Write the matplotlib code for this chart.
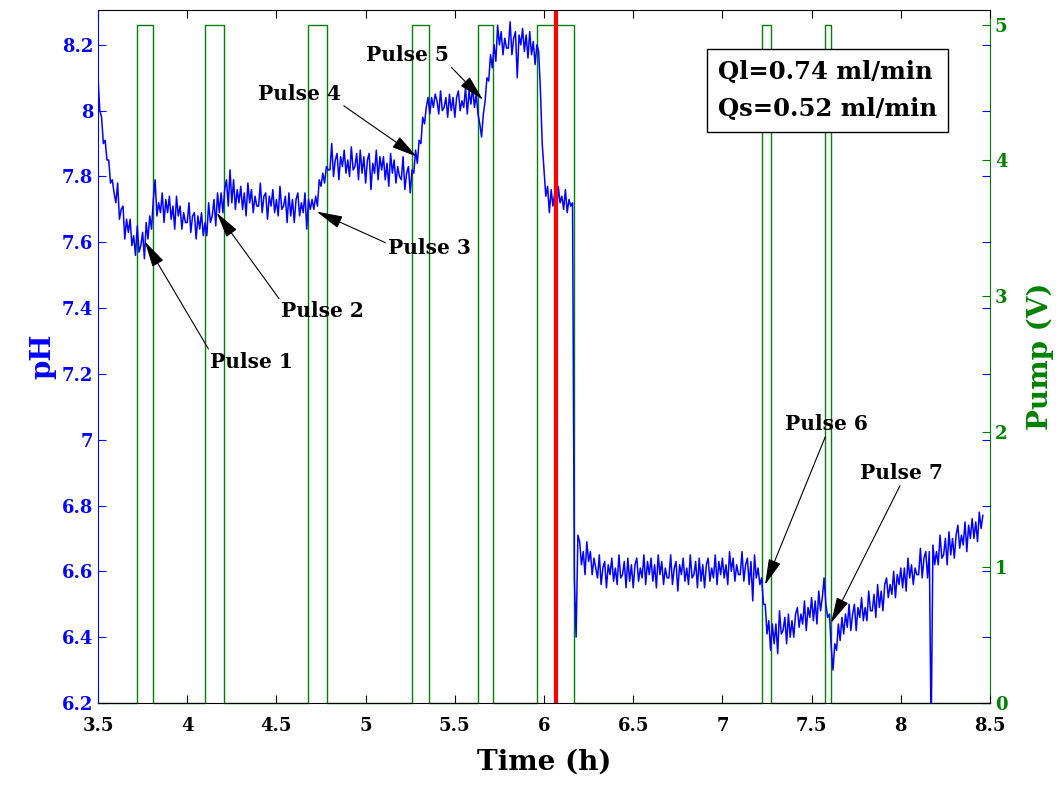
import numpy as np
import matplotlib
matplotlib.use("Agg")
import matplotlib.pyplot as plt

plt.rcParams['font.family'] = ['DejaVu Serif']
plt.rcParams['font.weight'] = 'bold'

# pH trace, one reading every 0.01 h starting at 3.50 h (rows of 0.1 h)
t_start = 3.50
t_step = 0.01
ph = [
    8.10, 8.00, 7.98, 7.90, 7.91, 7.85, 7.85, 7.78, 7.79, 7.75,  # 3.5
    7.72, 7.78, 7.67, 7.70, 7.71, 7.61, 7.67, 7.63, 7.67, 7.59,  # 3.6
    7.62, 7.56, 7.65, 7.57, 7.59, 7.63, 7.55, 7.66, 7.61, 7.68,  # 3.7
    7.64, 7.73, 7.79, 7.68, 7.72, 7.69, 7.75, 7.66, 7.73, 7.69,  # 3.8
    7.74, 7.67, 7.71, 7.64, 7.74, 7.68, 7.71, 7.64, 7.69, 7.66,  # 3.9
    7.66, 7.72, 7.63, 7.68, 7.69, 7.61, 7.68, 7.64, 7.69, 7.62,  # 4.0
    7.66, 7.62, 7.72, 7.66, 7.68, 7.73, 7.65, 7.75, 7.69, 7.75,  # 4.1
    7.69, 7.76, 7.79, 7.71, 7.82, 7.72, 7.79, 7.70, 7.76, 7.72,  # 4.2
    7.77, 7.70, 7.75, 7.68, 7.78, 7.72, 7.76, 7.69, 7.74, 7.71,  # 4.3
    7.71, 7.78, 7.69, 7.74, 7.75, 7.67, 7.74, 7.71, 7.76, 7.69,  # 4.4
    7.73, 7.68, 7.77, 7.70, 7.71, 7.74, 7.66, 7.75, 7.68, 7.73,  # 4.5
    7.66, 7.73, 7.75, 7.68, 7.72, 7.69, 7.75, 7.64, 7.73, 7.70,  # 4.6
    7.73, 7.70, 7.74, 7.71, 7.79, 7.77, 7.81, 7.78, 7.83, 7.82,  # 4.7
    7.82, 7.90, 7.80, 7.85, 7.87, 7.79, 7.86, 7.83, 7.88, 7.81,  # 4.8
    7.85, 7.80, 7.89, 7.82, 7.83, 7.87, 7.79, 7.88, 7.81, 7.86,  # 4.9
    7.78, 7.85, 7.87, 7.76, 7.84, 7.81, 7.88, 7.79, 7.86, 7.82,  # 5.0
    7.86, 7.79, 7.84, 7.77, 7.87, 7.81, 7.85, 7.78, 7.83, 7.80,  # 5.1
    7.79, 7.86, 7.76, 7.81, 7.83, 7.75, 7.82, 7.81, 7.88, 7.84,  # 5.2
    7.91, 7.90, 7.98, 7.96, 8.01, 8.04, 7.99, 8.04, 8.01, 8.05,  # 5.3
    8.03, 7.99, 8.06, 8.00, 8.01, 8.04, 7.98, 8.05, 8.00, 8.04,  # 5.4
    7.98, 8.04, 8.06, 8.00, 8.03, 8.01, 8.07, 7.99, 8.06, 8.02,  # 5.5
    8.07, 8.01, 8.05, 7.99, 7.96, 7.92, 7.99, 8.03, 8.10, 8.09,  # 5.6
    8.17, 8.13, 8.20, 8.15, 8.26, 8.20, 8.24, 8.17, 8.22, 8.19,  # 5.7
    8.19, 8.27, 8.17, 8.22, 8.24, 8.10, 8.23, 8.20, 8.25, 8.18,  # 5.8
    8.23, 8.16, 8.24, 8.17, 8.21, 8.14, 8.20, 8.18, 8.06, 7.90,  # 5.9
    7.82, 7.74, 7.77, 7.69, 7.76, 7.71, 7.75, 7.68, 7.77, 7.72,  # 6.0
    7.74, 7.70, 7.76, 7.69, 7.73, 7.71, 7.72, 6.58, 6.40, 6.71,  # 6.1
    6.69, 6.62, 6.66, 6.59, 6.69, 6.63, 6.66, 6.59, 6.64, 6.61,  # 6.2
    6.58, 6.65, 6.56, 6.61, 6.63, 6.55, 6.62, 6.59, 6.64, 6.57,  # 6.3
    6.61, 6.56, 6.65, 6.58, 6.59, 6.63, 6.55, 6.64, 6.57, 6.62,  # 6.4
    6.55, 6.62, 6.64, 6.57, 6.61, 6.58, 6.65, 6.56, 6.63, 6.59,  # 6.5
    6.64, 6.57, 6.62, 6.55, 6.65, 6.59, 6.63, 6.56, 6.61, 6.58,  # 6.6
    6.58, 6.65, 6.56, 6.61, 6.63, 6.54, 6.62, 6.59, 6.64, 6.57,  # 6.7
    6.61, 6.56, 6.65, 6.58, 6.59, 6.63, 6.55, 6.64, 6.57, 6.62,  # 6.8
    6.55, 6.62, 6.64, 6.57, 6.61, 6.58, 6.65, 6.56, 6.63, 6.59,  # 6.9
    6.64, 6.58, 6.62, 6.56, 6.66, 6.60, 6.64, 6.57, 6.62, 6.59,  # 7.0
    6.59, 6.66, 6.57, 6.62, 6.64, 6.56, 6.63, 6.51, 6.65, 6.58,  # 7.1
    6.61, 6.56, 6.58, 6.50, 6.50, 6.41, 6.45, 6.36, 6.44, 6.38,  # 7.2
    6.44, 6.35, 6.48, 6.41, 6.42, 6.46, 6.38, 6.47, 6.40, 6.45,  # 7.3
    6.40, 6.47, 6.49, 6.43, 6.47, 6.44, 6.51, 6.42, 6.49, 6.46,  # 7.4
    6.52, 6.45, 6.51, 6.44, 6.54, 6.48, 6.52, 6.58, 6.50, 6.46,  # 7.5
    6.47, 6.37, 6.30, 6.38, 6.36, 6.44, 6.39, 6.46, 6.41, 6.47,  # 7.6
    6.43, 6.50, 6.42, 6.47, 6.50, 6.42, 6.49, 6.46, 6.52, 6.45,  # 7.7
    6.49, 6.45, 6.54, 6.48, 6.48, 6.53, 6.46, 6.56, 6.49, 6.54,  # 7.8
    6.48, 6.56, 6.58, 6.52, 6.56, 6.53, 6.60, 6.52, 6.59, 6.56,  # 7.9
    6.61, 6.55, 6.61, 6.54, 6.64, 6.58, 6.62, 6.56, 6.61, 6.59,  # 8.0
    6.59, 6.67, 6.58, 6.64, 6.66, 6.58, 6.66, 6.10, 6.68, 6.62,  # 8.1
    6.66, 6.62, 6.71, 6.64, 6.65, 6.70, 6.62, 6.72, 6.65, 6.70,  # 8.2
    6.64, 6.71, 6.74, 6.67, 6.71, 6.68, 6.75, 6.66, 6.74, 6.70,  # 8.3
    6.76, 6.70, 6.75, 6.69, 6.78, 6.73, 6.77,                    # 8.4
]

# pump pulses (start, end) in hours, level in volts
pulse_on = [3.716, 4.100, 4.679, 5.258, 5.628, 5.961, 7.222, 7.575]
pulse_off = [3.806, 4.208, 4.785, 5.353, 5.716, 6.168, 7.270, 7.610]
pump_high = 5.0
pump_low = 0.0

t_switch = 6.07  # red marker

pulse_names = ['Pulse 1', 'Pulse 2', 'Pulse 3', 'Pulse 4', 'Pulse 5', 'Pulse 6', 'Pulse 7']
pulse_tip = [(3.763, 7.602), (4.165, 7.69), (4.726, 7.693), (5.288, 7.86),
             (5.658, 8.033), (7.239, 6.559), (7.609, 6.443)]
pulse_label = [(4.128, 7.237), (4.526, 7.39), (5.126, 7.583), (4.397, 8.051),
               (5.002, 8.17), (7.351, 7.048), (7.771, 6.899)]
arrow_from = [(0.0, 1.0), (0.0, 1.0), (0.0, 0.7), (1.0, 0.0),
              (1.0, 0.0), (0.5, 0.0), (0.5, 0.0)]

BLUE = '#0000ff'
GREEN = '#008000'

t = t_start + t_step * np.arange(len(ph))

# step trace for the pump
pt = [3.5]
pv = [pump_low]
for a, b in zip(pulse_on, pulse_off):
    pt += [a, a, b, b]
    pv += [pump_low, pump_high, pump_high, pump_low]
pt.append(8.5)
pv.append(pump_low)

fig = plt.figure(figsize=(10.62, 7.91), dpi=100)
ax1 = fig.add_axes([0.0923, 0.1113, 0.8399, 0.8761])
ax2 = ax1.twinx()
ax1.set_zorder(ax2.get_zorder() + 1)
ax1.patch.set_visible(False)

ax2.plot(pt, pv, color=GREEN, lw=1.0, clip_on=False)
ax1.plot(t, ph, color=BLUE, lw=1.1)
ax1.axvline(t_switch, color='red', lw=3)

ax1.set_xlim(3.5, 8.5)
ax1.set_ylim(6.2, 8.306)
ax2.set_ylim(0, 5.11)

ax1.set_xticks(np.arange(3.5, 8.51, 0.5))
ax1.set_xticklabels(['3.5', '4', '4.5', '5', '5.5', '6', '6.5', '7', '7.5', '8', '8.5'])
ax1.set_yticks(np.arange(6.2, 8.21, 0.2))
ax1.set_yticklabels(['6.2', '6.4', '6.6', '6.8', '7', '7.2', '7.4', '7.6', '7.8', '8', '8.2'])
ax2.set_yticks(range(6))

ax1.tick_params(axis='x', direction='in', top=True, length=6, labelsize=13,
                colors='black', pad=10)
ax1.tick_params(axis='y', direction='in', right=True, length=6, labelsize=13,
                colors=BLUE)
ax2.tick_params(axis='y', direction='in', length=6, labelsize=13, colors=GREEN)

ax1.spines['left'].set_color(BLUE)
ax1.spines['right'].set_visible(False)
ax2.spines['right'].set_color(GREEN)
ax2.spines['left'].set_visible(False)
ax2.spines['top'].set_visible(False)
ax2.spines['bottom'].set_visible(False)

ax1.set_xlabel('Time (h)', fontsize=20, fontweight='bold', labelpad=10)
ax1.set_ylabel('pH', fontsize=20, fontweight='bold', color=BLUE, labelpad=4)
ax2.set_ylabel('Pump (V)', fontsize=20, fontweight='bold', color=GREEN, labelpad=14)

for name, tip, lab, rp in zip(pulse_names, pulse_tip, pulse_label, arrow_from):
    ax1.annotate(name, xy=tip, xytext=lab, ha='left', va='center',
                 fontsize=14.5, fontweight='bold',
                 arrowprops=dict(arrowstyle='-|>,head_length=0.9,head_width=0.22',
                                 color='black', lw=0.8, mutation_scale=18,
                                 relpos=rp, shrinkA=0, shrinkB=0))

ax1.text(0.695, 0.928, 'Ql=0.74 ml/min\nQs=0.52 ml/min', transform=ax1.transAxes,
         ha='left', va='top', fontsize=17.5, fontweight='bold', linespacing=1.7,
         bbox=dict(boxstyle='square,pad=0.45', fc='white', ec='black', lw=1))

fig.savefig('out.png', dpi=100)
